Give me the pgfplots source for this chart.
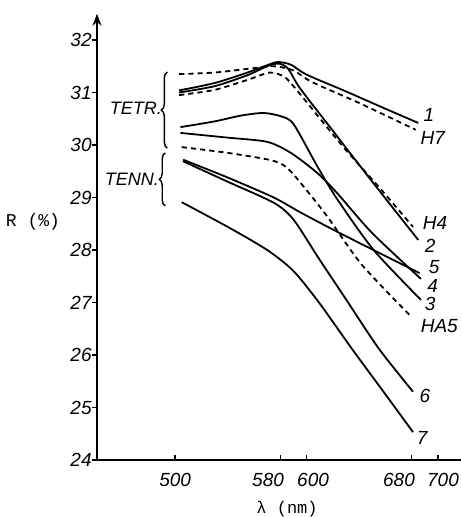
\documentclass[border=0pt]{standalone}
\usepackage{fontspec}
\setmainfont{Liberation Sans}
\setmonofont{Liberation Mono}
\usepackage{pgfplots}
\pgfplotsset{compat=1.18}
\usetikzlibrary{arrows.meta,decorations.pathreplacing}

\begin{document}
\begin{tikzpicture}
\useasboundingbox (-48.5pt,-28.5pt) rectangle (182pt,230pt);
\begin{axis}[
  scale only axis, width=182pt, height=223.125pt,
  xmin=440.5, xmax=717.5, ymin=24, ymax=32.5,
  axis lines=left,
  axis line style={line width=0.9pt},
  x axis line style={-},
  y axis line style={-{Stealth[length=6pt,width=4.5pt]}},
  xtick={500,580,600,680,700},
  xticklabels={},
  ytick={24,25,...,32},
  tick align=outside,
  major tick length=2.5pt,
  tick style={line width=0.7pt, black},
  x tick style={yshift=2.5pt},
  ticklabel style={font=\fontsize{9.5}{10}\selectfont\itshape},
  yticklabel style={inner sep=0pt},
  /pgf/number format/assume math mode=true,
  /pgf/number format/1000 sep={},
  clip=false,
  sl/.style={black, line width=0.9pt, smooth, tension=0.45, mark=none},
  dsh/.style={sl, dash pattern=on 2.6pt off 2pt},
]
% curve 1
\addplot[sl] coordinates {(503,31.04) (530,31.18) (555,31.38) (570,31.52) (578,31.58) (588,31.53) (600,31.34) (630,31.02) (660,30.69) (685,30.42)};
% H7
\addplot[dsh] coordinates {(503,31.35) (530,31.38) (555,31.45) (575,31.5) (590,31.42) (604,31.2) (640,30.8) (683,30.29)};
% curve 2
\addplot[sl] coordinates {(503,31.0) (530,31.12) (555,31.33) (570,31.5) (579,31.55) (586,31.45) (595,31.08) (620,30.27) (650,29.3) (685,28.19)};
% H4
\addplot[dsh] coordinates {(503,30.95) (530,31.05) (555,31.24) (572,31.38) (583,31.3) (590,31.12) (597,30.91) (628,29.96) (655,29.2) (681,28.44)};
% curve 3
\addplot[sl] coordinates {(504,30.34) (530,30.45) (550,30.56) (567,30.61) (580,30.55) (590,30.4) (608,29.6) (623,28.98) (651,28.0) (687,27.05)};
% curve 4
\addplot[sl] coordinates {(504,30.23) (540,30.14) (570,30.06) (588,29.85) (608,29.47) (623,29.09) (650,28.32) (687,27.45)};
% HA5
\addplot[dsh] coordinates {(505,29.96) (540,29.85) (573,29.71) (585,29.57) (598,29.2) (616,28.63) (642,27.72) (680,26.72)};
% curve 5
\addplot[sl] coordinates {(506,29.72) (540,29.38) (575,29.0) (595,28.72) (620,28.39) (650,28.01) (686,27.56)};
% curve 6
\addplot[sl] coordinates {(506,29.69) (540,29.3) (575,28.9) (590,28.58) (609,27.85) (630,27.06) (655,26.12) (681,25.3)};
% curve 7
\addplot[sl] coordinates {(505,28.91) (540,28.44) (570,28.0) (590,27.6) (610,26.98) (635,26.1) (660,25.25) (681,24.53)};

% braces
\draw[decorate, decoration={brace, amplitude=3pt}, line width=0.7pt] (axis cs:494,29.94) -- (axis cs:494,31.39);
\draw[decorate, decoration={brace, amplitude=3pt}, line width=0.7pt] (axis cs:492.4,28.84) -- (axis cs:492.4,29.85);

\begin{scope}[every node/.style={font=\fontsize{9.5}{10}\selectfont\itshape, inner sep=0pt}]
\node[font=\fontsize{9}{10}\selectfont\itshape] at (axis cs:470,30.70) {TETR.};
\node[font=\fontsize{9}{10}\selectfont\itshape] at (axis cs:467,29.35) {TENN.};
\node at (axis cs:693,30.57) {1};
\node at (axis cs:696,30.13) {H7};
\node at (axis cs:697.7,28.51) {H4};
\node at (axis cs:694,28.08) {2};
\node at (axis cs:697,27.68) {5};
\node at (axis cs:696,27.32) {4};
\node at (axis cs:694,26.97) {3};
\node at (axis cs:701,26.55) {HA5};
\node at (axis cs:690,25.22) {6};
\node at (axis cs:688,24.42) {7};
% x tick labels
\node at ([yshift=-10pt]axis cs:500,24) {500};
\node at ([yshift=-10pt]axis cs:570.7,24) {580};
\node at ([yshift=-10pt]axis cs:604.9,24) {600};
\node at ([yshift=-10pt]axis cs:670.3,24) {680};
\node at ([yshift=-10pt]axis cs:703.8,24) {700};
\end{scope}
\end{axis}
\node[font=\ttfamily\fontsize{9}{10}\selectfont, inner sep=0pt] at (-32pt,119pt) {R (\%)};
\node[font=\ttfamily\fontsize{8.5}{10}\selectfont, inner sep=0pt] at (95pt,-24.5pt) {λ (nm)};
\end{tikzpicture}
\end{document}
